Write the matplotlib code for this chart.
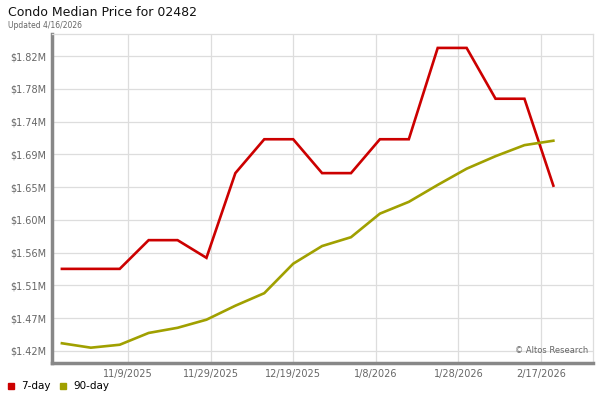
import datetime as dt

import numpy as np
import matplotlib
matplotlib.use('Agg')
import matplotlib.pyplot as plt
import matplotlib.dates as mdates

# weekly data points (Fridays)
start = dt.date(2025, 10, 24)
dates = [start + dt.timedelta(weeks=i) for i in range(18)]
seven_day = [1.535, 1.535, 1.535, 1.574, 1.574, 1.550, 1.665, 1.711, 1.711, 1.665,
             1.665, 1.711, 1.711, 1.835, 1.835, 1.766, 1.766, 1.648]
ninety_day = [1.434, 1.428, 1.432, 1.448, 1.455, 1.466, 1.485, 1.502, 1.542, 1.566,
              1.578, 1.610, 1.626, 1.649, 1.671, 1.688, 1.703, 1.709]

xtick_dates = [dt.date(2025, 11, 9), dt.date(2025, 11, 29), dt.date(2025, 12, 19),
               dt.date(2026, 1, 8), dt.date(2026, 1, 28), dt.date(2026, 2, 17)]
xtick_labels = ['11/9/2025', '11/29/2025', '12/19/2025', '1/8/2026', '1/28/2026', '2/17/2026']
ytick_labels = ['$1.42M', '$1.47M', '$1.51M', '$1.56M', '$1.60M',
                '$1.65M', '$1.69M', '$1.74M', '$1.78M', '$1.82M']

red = '#cc0000'
olive = '#a0a000'
grey = '#666666'

plt.rcParams['font.family'] = ['DejaVu Sans']

fig = plt.figure(figsize=(6, 4), dpi=100)
ax = fig.add_axes([52 / 600, 1 - 363 / 400, 541 / 600, 329 / 400])

ax.plot(dates, seven_day, color=red, lw=1.9, solid_joinstyle='miter', zorder=3)
ax.plot(dates, ninety_day, color=olive, lw=1.9, solid_joinstyle='miter', zorder=3)

yticks = 1.4235 + 0.0445 * np.arange(len(ytick_labels))
ax.set_yticks(yticks)
ax.set_yticklabels(ytick_labels)
ax.set_xticks([mdates.date2num(d) for d in xtick_dates])
ax.set_xticklabels(xtick_labels)

x0 = mdates.date2num(start) - 2.4
x1 = mdates.date2num(dt.date(2026, 2, 17)) + 12.6
ax.set_xlim(x0, x1)
ax.set_ylim(1.4072, 1.8539)

ax.grid(True, color='#dddddd', lw=0.9)
ax.set_axisbelow(True)
ax.tick_params(length=0, labelsize=7, labelcolor=grey, pad=4)
for s in ['top', 'right']:
    ax.spines[s].set_color('#dddddd')
    ax.spines[s].set_linewidth(0.9)
for s in ['left', 'bottom']:
    ax.spines[s].set_color('#888888')
    ax.spines[s].set_linewidth(2.5)

ax.text(0.992, 0.025, '\u00a9 Altos Research', transform=ax.transAxes,
        ha='right', va='bottom', fontsize=6, color=grey)

fig.text(8 / 600, 1 - 12 / 400, 'Condo Median Price for 02482', fontsize=9,
         color='#111111', va='center', ha='left')
fig.text(8 / 600, 1 - 25 / 400, 'Updated 4/16/2026', fontsize=5.5,
         color=grey, va='center', ha='left')

# legend
fig.patches.append(plt.Rectangle((8 / 600, 1 - 389 / 400), 6 / 600, 6 / 400,
                                 color=red, transform=fig.transFigure))
fig.text(21 / 600, 1 - 386 / 400, '7-day', fontsize=7.5, va='center', ha='left')
fig.patches.append(plt.Rectangle((60 / 600, 1 - 389 / 400), 6 / 600, 6 / 400,
                                 color=olive, transform=fig.transFigure))
fig.text(73 / 600, 1 - 386 / 400, '90-day', fontsize=7.5, va='center', ha='left')

fig.savefig('out.png', dpi=100)
